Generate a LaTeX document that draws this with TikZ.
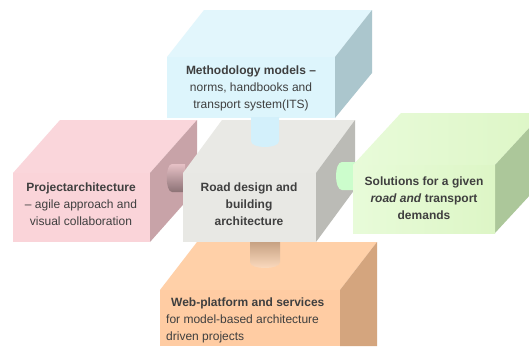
\documentclass[tikz,border=0pt]{standalone}
\usepackage{fontspec}
\setmainfont{Liberation Sans}
\begin{document}
\definecolor{txt}{HTML}{3F3F3F}
\definecolor{bluefront}{HTML}{DDF5FC}
\definecolor{bluetop}{HTML}{E2F6FC}
\definecolor{blueside}{HTML}{ABC6CD}
\definecolor{bluecyl}{HTML}{D3F0FB}
\definecolor{pinkfront}{HTML}{FAD4D9}
\definecolor{pinktop}{HTML}{FAD6DB}
\definecolor{pinkside}{HTML}{C8A3A8}
\definecolor{grayfront}{HTML}{E8E8E4}
\definecolor{graytop}{HTML}{E9E9E5}
\definecolor{grayside}{HTML}{BBBBB6}
\definecolor{greenfront}{HTML}{E8FBD9}
\definecolor{greenfront2}{HTML}{DDF6C6}
\definecolor{greenside}{HTML}{ACC79A}
\definecolor{greencyl}{HTML}{CCFDCC}
\definecolor{orangefront}{HTML}{FFCCA3}
\definecolor{orangetop}{HTML}{FFD0A8}
\definecolor{orangeside}{HTML}{D4A57E}
\begin{tikzpicture}[x=1pt,y=-1pt,
  lbl/.style={text=txt,font=\fontsize{12}{17}\selectfont,align=center,inner sep=0pt}]
\clip (0,0) rectangle (529,346);
\fill[white] (0,0) rectangle (529,346);
% blue box
\fill[bluetop] (167,57) -- (204,10) -- (372,10) -- (335,57) -- cycle;
\fill[blueside] (335,57) -- (372,10) -- (372,73) -- (335,118) -- cycle;
\fill[bluefront] (167,57) rectangle (335,118);
% pink box
\fill[pinktop] (13,173) -- (60,120) -- (197,120) -- (150,173) -- cycle;
\fill[pinkside] (150,173) -- (197,120) -- (197,189) -- (150,242) -- cycle;
\fill[pinkfront] (13,173) rectangle (150,242);
% pink cylinder
\shade[top color=pinkfront!60!pinkside, bottom color=pinkside!70!black]
  (185,164) -- (172,164) .. controls (165,164) and (165,192) .. (172,192) -- (185,192) -- cycle;
% orange box
\fill[orangetop] (160,290) -- (197,242) -- (377,242) -- (340,290) -- cycle;
\fill[orangeside] (340,290) -- (377,242) -- (377,346) -- (340,346) -- cycle;
\fill[orangefront] (160,290) rectangle (340,346);
% orange cylinder
\shade[top color=orangeside!80!gray, bottom color=orangetop!70!white]
  (250,240) -- (250,262) .. controls (250,270) and (280,270) .. (280,262) -- (280,240) -- cycle;
% gray box
\fill[graytop] (183,173) -- (222,120) -- (355,120) -- (316,173) -- cycle;
\fill[grayside] (316,173) -- (355,120) -- (355,189) -- (316,242) -- cycle;
\fill[grayfront] (183,173) rectangle (316,242);
% blue cylinder
\fill[bluecyl]
  (251,117) -- (251,141) .. controls (251,149) and (279,149) .. (279,141) -- (279,117) -- cycle;
% green cylinder
\fill[greencyl]
  (356,162) -- (342,162) .. controls (334,162) and (334,190) .. (342,190) -- (356,190) -- cycle;
% green box
\shade[left color=greenfront, right color=greenfront2] (353,165) -- (401,113) -- (543,113) -- (495,165) -- cycle;
\fill[greenside] (495,165) -- (543,113) -- (543,181) -- (495,233) -- cycle;
\shade[left color=greenfront, right color=greenfront2] (353,165) rectangle (495,233);
% labels
\node[lbl] (meth) at (251,88) {\textbf{Methodology models –}\\norms, handbooks and\\transport system(ITS)};
\node[lbl] (proj) at (81,204) {\textbf{Projectarchitecture}\\– agile approach and\\visual collaboration};
\node[lbl] (road) at (249,204) {\textbf{Road design and}\\\textbf{building}\\\textbf{architecture}};
\node[lbl] (sol) at (424,198) {\textbf{Solutions for a given}\\\textbf{\textit{road and} transport}\\\textbf{demands}};
\node[lbl,align=left,anchor=west] (web) at (166,320.5) {\hspace*{5pt}\textbf{Web-platform and services}\\for model-based architecture\\driven projects};
\end{tikzpicture}
\end{document}
